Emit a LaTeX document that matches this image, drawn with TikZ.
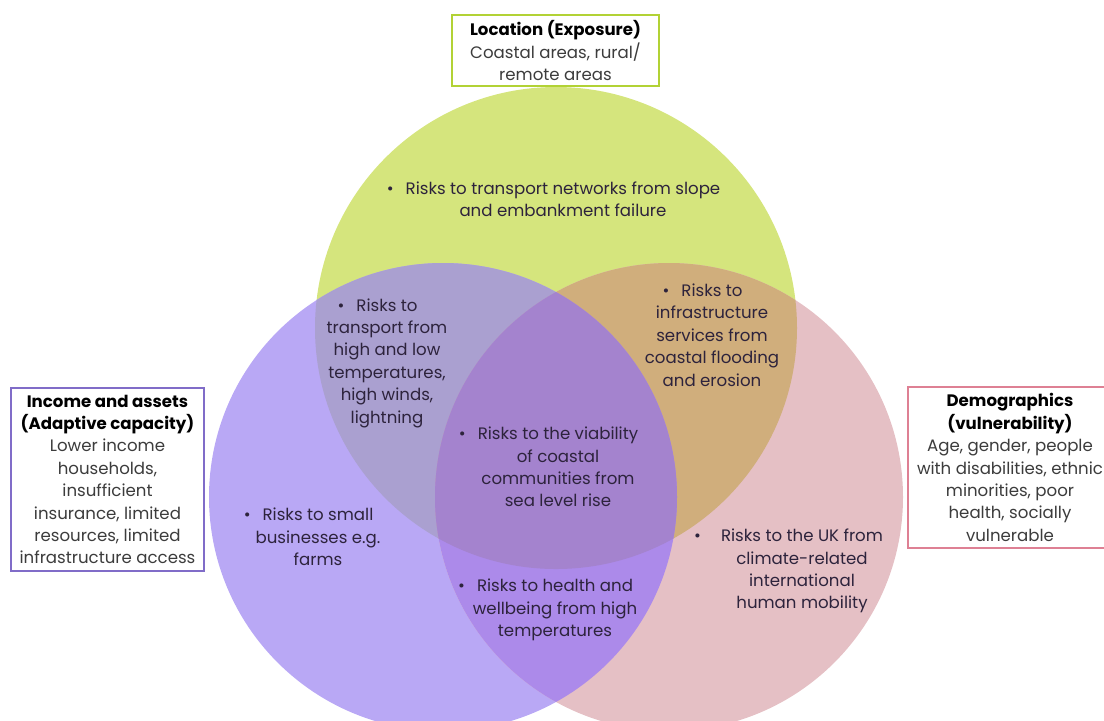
\documentclass[tikz,border=0pt]{standalone}
\usepackage{fontspec}
\setmainfont{Poppins}
\definecolor{locfill}{RGB}{213,229,125}
\definecolor{incfill}{RGB}{185,168,245}
\definecolor{demfill}{RGB}{229,192,197}
\definecolor{locincfill}{RGB}{170,160,208}
\definecolor{locdemfill}{RGB}{208,174,124}
\definecolor{incdemfill}{RGB}{172,138,234}
\definecolor{allfill}{RGB}{164,131,206}
\definecolor{locline}{RGB}{178,210,53}
\definecolor{incline}{RGB}{128,108,200}
\definecolor{demline}{RGB}{222,128,148}
\definecolor{risktext}{RGB}{45,35,60}
\definecolor{boxtext}{RGB}{60,60,60}
\newcommand{\bul}{\llap{\textbullet\hspace{6pt}}}
\newcommand{\head}[1]{{\color{black}\bfseries #1}}

\begin{document}
\begin{tikzpicture}[x=0.5pt, y=0.5pt,
    risk/.style={align=center,
      inner sep=0pt,
      text=risktext,
      font=\fontsize{8.3}{11.2}\selectfont},
    factor/.style={draw,
      line width=1.2pt,
      fill=white,
      align=center,
      inner sep=1pt,
      text=boxtext,
      font=\fontsize{8.3}{11.2}\selectfont}]
  \clip (0,0) rectangle (1104,-720);

  % CIRCLES

  \coordinate (loc) at (556,-328);
  \coordinate (inc) at (443,-497);
  \coordinate (dem) at (669,-497);

  \fill[locfill] (loc) circle (241);
  \fill[incfill] (inc) circle (234);
  \fill[demfill] (dem) circle (234);

  \begin{scope}
    \clip (loc) circle (241);
    \fill[locincfill] (inc) circle (234);
    \fill[locdemfill] (dem) circle (234);
  \end{scope}
  \begin{scope}
    \clip (inc) circle (234);
    \fill[incdemfill] (dem) circle (234);
    \clip (loc) circle (241);
    \fill[allfill] (dem) circle (234);
  \end{scope}

  % FACTORS

  \node[factor, draw=locline,
    minimum width=103.5pt,
    minimum height=35.5pt] (locationbox) at (555.5,-50.5) {
    \head{Location (Exposure)}\\
    Coastal areas, rural/\\
    remote areas
  };

  \node[factor, draw=incline,
    minimum width=96.5pt,
    minimum height=91.5pt] (incomebox) at (107.5,-479.5) {
    \head{Income and assets}\\
    \head{(Adaptive capacity)}\\
    Lower income\\
    households,\\
    insufficient\\
    insurance, limited\\
    resources, limited\\
    infrastructure access
  };

  \node[factor, draw=demline,
    minimum width=102pt,
    minimum height=80.5pt] (demobox) at (1010,-467.5) {
    \head{Demographics}\\
    \head{(vulnerability)}\\
    Age, gender, people\\
    with disabilities, ethnic\\
    minorities, poor\\
    health, socially\\
    vulnerable
  };

  % RISKS

  \node[risk] (sloperisk) at (563,-199) {
    \bul Risks to transport networks from slope\\
    and embankment failure
  };

  \node[risk] (transportrisk) at (387,-363) {
    \bul Risks to\\
    transport from\\
    high and low\\
    temperatures,\\
    high winds,\\
    lightning
  };

  \node[risk] (floodrisk) at (712,-335) {
    \bul Risks to\\
    infrastructure\\
    services from\\
    coastal flooding\\
    and erosion
  };

  \node[risk] (sealevelrisk) at (558,-467) {
    \bul Risks to the viability\\
    of coastal\\
    communities from\\
    sea level rise
  };

  \node[risk] (businessrisk) at (318,-537) {
    \bul Risks to small\\
    businesses e.g.\\
    farms
  };

  \node[risk] (healthrisk) at (555,-610) {
    \bul Risks to health and\\
    wellbeing from high\\
    temperatures
  };

  \node[risk] (mobilityrisk) at (802,-571) {
    \llap{\textbullet\hspace{10pt}}Risks to the UK from\\
    climate-related\\
    international\\
    human mobility
  };

\end{tikzpicture}
\end{document}
